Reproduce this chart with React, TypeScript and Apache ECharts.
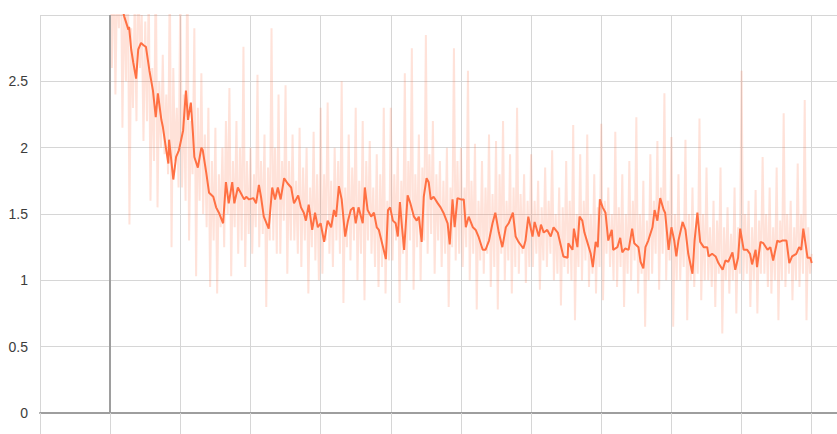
import React, { useEffect, useRef } from "react";
import * as echarts from "echarts";

// y-axis tick labels (top gridline "3" carries no label)
const yTicks = [0, 0.5, 1, 1.5, 2, 2.5, 3];

// raw values, one every 25 steps starting at step 0
const RAW_STEP = 25;
const rawLoss = [
  // 0 - 975
  3.9, 2.6, 3.5, 2.4, 3.3, 2.9, 3.6, 2.15, 3.2, 2.5, 3.6, 1.42, 2.9, 2.3, 3.1, 2.2, 3.5, 2.6, 3.0, 2.05,
  2.95, 2.2, 3.2, 1.6, 2.6, 1.9, 3.4, 1.55, 2.5, 2.0, 2.7, 1.95, 2.4, 1.8, 3.3, 1.25, 2.6, 1.9, 2.3, 1.7,
  // 1000 - 1975
  3.2, 1.7, 2.4, 1.6, 3.5, 1.3, 2.2, 1.8, 2.9, 1.03, 2.3, 1.6, 2.56, 1.5, 2.1, 1.4, 2.3, 0.95, 1.9, 1.3,
  2.15, 0.9, 1.8, 1.4, 2.0, 1.25, 2.2, 1.5, 2.45, 1.03, 1.9, 1.4, 2.2, 1.2, 2.0, 1.3, 2.76, 1.1, 1.9, 1.35,
  // 2000 - 2975
  2.0, 1.2, 1.8, 1.4, 2.55, 1.25, 1.9, 1.35, 2.1, 0.8, 1.85, 1.3, 2.9, 1.3, 2.0, 1.2, 2.4, 1.2, 1.9, 1.45,
  2.47, 1.05, 1.9, 1.3, 2.1, 1.3, 1.75, 1.2, 2.15, 1.1, 1.85, 1.3, 2.0, 0.9, 1.7, 1.25, 2.12, 1.15, 1.8, 1.0,
  // 3000 - 3975
  2.3, 1.05, 1.8, 1.3, 2.34, 1.2, 1.75, 1.1, 2.0, 1.3, 1.9, 1.2, 2.5, 0.83, 1.7, 1.25, 2.1, 1.15, 1.85, 1.3,
  2.3, 1.0, 1.75, 1.2, 2.2, 0.85, 1.9, 1.3, 2.05, 1.2, 1.7, 1.1, 1.95, 0.95, 1.8, 1.1, 2.3, 0.9, 1.6, 1.15,
  // 4000 - 4975
  2.3, 1.15, 1.8, 1.3, 2.0, 0.83, 1.75, 1.2, 2.56, 1.0, 1.9, 1.3, 2.75, 0.93, 1.8, 1.25, 2.1, 1.0, 1.85, 1.3,
  2.85, 1.2, 1.95, 1.35, 2.2, 1.05, 1.8, 1.3, 1.9, 1.1, 1.75, 1.2, 2.0, 0.8, 1.7, 1.25, 2.75, 1.15, 1.9, 1.2,
  // 5000 - 5975
  2.0, 1.1, 1.7, 1.25, 2.58, 1.0, 1.75, 1.2, 2.03, 0.78, 1.6, 1.15, 1.9, 1.05, 1.7, 1.2, 2.1, 0.95, 1.65, 1.1,
  2.05, 0.78, 1.8, 1.2, 2.2, 1.0, 1.6, 1.15, 1.95, 0.9, 1.7, 1.1, 2.3, 1.05, 1.65, 1.2, 1.8, 0.98, 1.6, 1.1,
  // 6000 - 6975
  1.95, 1.1, 1.6, 1.2, 1.75, 0.93, 1.55, 1.15, 1.85, 1.1, 1.6, 1.2, 1.98, 1.0, 1.5, 1.05, 1.7, 0.81, 1.55, 1.1,
  1.9, 1.05, 1.6, 1.0, 2.17, 0.7, 1.5, 1.1, 1.95, 1.0, 1.6, 1.15, 2.1, 0.95, 1.5, 1.05, 1.8, 0.9, 1.55, 1.1,
  // 7000 - 7975
  2.18, 0.85, 1.6, 1.2, 1.7, 1.1, 1.5, 1.0, 2.12, 0.95, 1.55, 1.1, 1.8, 0.8, 1.5, 1.05, 1.9, 1.0, 1.6, 1.15,
  2.23, 0.9, 1.5, 1.05, 1.75, 0.65, 1.45, 1.0, 1.95, 1.05, 1.6, 1.2, 2.05, 0.93, 1.7, 1.2, 2.41, 1.0, 1.6, 1.15,
  // 8000 - 8975
  2.08, 0.65, 1.5, 1.0, 1.8, 1.0, 1.45, 1.1, 2.06, 0.7, 1.5, 1.0, 1.7, 0.95, 1.4, 1.05, 2.22, 0.85, 1.5, 1.0,
  1.85, 1.0, 1.4, 0.95, 1.6, 0.8, 1.45, 1.05, 1.85, 0.6, 1.4, 1.0, 1.55, 0.9, 1.35, 1.0, 1.7, 0.75, 1.4, 1.05,
  // 9000 - 10000
  2.58, 1.0, 1.5, 1.05, 1.6, 0.8, 1.4, 1.0, 1.68, 0.75, 1.45, 1.05, 1.93, 1.05, 1.5, 0.95, 1.7, 0.9, 1.4, 1.0,
  1.85, 0.7, 1.45, 1.0, 2.26, 0.95, 1.5, 1.05, 1.6, 0.85, 1.4, 1.0, 1.88, 0.95, 1.5, 1.05, 2.36, 0.7, 1.4, 1.05,
  1.2,
];

// smoothed curve: [step, value]
const smoothed: [number, number][] = [
  [0, 3.6], [100, 3.2], [200, 2.99], [260, 2.89], [270, 2.91], [300, 2.74], [330, 2.64], [370, 2.52],
  [400, 2.74], [440, 2.79], [480, 2.77], [510, 2.76], [560, 2.58], [610, 2.43], [650, 2.23], [680, 2.41],
  [730, 2.21], [750, 2.16], [800, 1.98], [830, 1.88], [840, 2.06], [900, 1.76], [940, 1.93], [980, 1.98],
  [1040, 2.13], [1080, 2.43], [1110, 2.21], [1150, 2.34], [1180, 2.11], [1200, 1.93], [1250, 1.85], [1300, 2.0],
  [1320, 1.98], [1370, 1.81], [1410, 1.66], [1470, 1.63], [1510, 1.55], [1550, 1.51], [1610, 1.43], [1650, 1.74],
  [1690, 1.58], [1740, 1.74], [1770, 1.58], [1820, 1.7], [1860, 1.66], [1910, 1.61], [1940, 1.63], [1980, 1.61],
  [2040, 1.62], [2080, 1.58], [2120, 1.72], [2150, 1.63], [2190, 1.48], [2260, 1.39], [2310, 1.7], [2350, 1.61],
  [2390, 1.7], [2430, 1.61], [2480, 1.77], [2530, 1.73], [2580, 1.7], [2620, 1.58], [2680, 1.64], [2720, 1.55],
  [2760, 1.51], [2790, 1.45], [2830, 1.57], [2880, 1.38], [2920, 1.51], [2960, 1.4], [3000, 1.43], [3050, 1.29],
  [3100, 1.45], [3150, 1.4], [3190, 1.53], [3220, 1.48], [3260, 1.71], [3300, 1.61], [3350, 1.33], [3390, 1.45],
  [3430, 1.53], [3470, 1.55], [3500, 1.43], [3540, 1.55], [3600, 1.43], [3630, 1.7], [3670, 1.53], [3720, 1.48],
  [3760, 1.51], [3800, 1.4], [3830, 1.38], [3890, 1.25], [3930, 1.16], [3960, 1.53], [3990, 1.55], [4030, 1.45],
  [4070, 1.43], [4100, 1.33], [4130, 1.59], [4160, 1.4], [4190, 1.23], [4240, 1.64], [4280, 1.58], [4330, 1.48],
  [4370, 1.45], [4400, 1.48], [4440, 1.29], [4470, 1.63], [4510, 1.77], [4540, 1.74], [4570, 1.61], [4610, 1.63],
  [4670, 1.58], [4710, 1.55], [4750, 1.51], [4810, 1.43], [4840, 1.27], [4880, 1.61], [4910, 1.4], [4950, 1.62],
  [5000, 1.61], [5040, 1.61], [5070, 1.4], [5110, 1.48], [5170, 1.4], [5210, 1.38], [5250, 1.33], [5310, 1.23],
  [5350, 1.23], [5400, 1.3], [5450, 1.43], [5490, 1.51], [5540, 1.36], [5590, 1.25], [5640, 1.4], [5680, 1.43],
  [5740, 1.51], [5780, 1.33], [5820, 1.29], [5890, 1.24], [5920, 1.3], [5960, 1.48], [6020, 1.33], [6050, 1.44],
  [6110, 1.33], [6140, 1.42], [6180, 1.36], [6230, 1.38], [6280, 1.33], [6320, 1.4], [6380, 1.36], [6420, 1.27],
  [6460, 1.18], [6520, 1.17], [6530, 1.28], [6590, 1.23], [6610, 1.39], [6660, 1.25], [6690, 1.48], [6730, 1.45],
  [6760, 1.36], [6800, 1.29], [6850, 1.2], [6880, 1.1], [6920, 1.29], [6950, 1.25], [6980, 1.61], [7020, 1.55],
  [7060, 1.51], [7100, 1.3], [7150, 1.38], [7170, 1.23], [7230, 1.25], [7270, 1.32], [7300, 1.21], [7340, 1.24],
  [7390, 1.23], [7440, 1.39], [7470, 1.28], [7530, 1.25], [7560, 1.14], [7600, 1.09], [7630, 1.25], [7670, 1.3],
  [7730, 1.4], [7760, 1.53], [7800, 1.45], [7840, 1.62], [7890, 1.53], [7910, 1.51], [7960, 1.23], [8000, 1.4],
  [8040, 1.3], [8070, 1.18], [8100, 1.3], [8160, 1.44], [8200, 1.38], [8240, 1.2], [8300, 1.05], [8330, 1.3],
  [8370, 1.51], [8410, 1.29], [8460, 1.25], [8510, 1.25], [8530, 1.18], [8580, 1.2], [8630, 1.18], [8670, 1.13],
  [8730, 1.08], [8770, 1.15], [8810, 1.14], [8870, 1.21], [8910, 1.08], [8950, 1.17], [8980, 1.39], [9030, 1.23],
  [9080, 1.23], [9120, 1.2], [9150, 1.12], [9200, 1.23], [9220, 1.1], [9270, 1.29], [9310, 1.28], [9370, 1.23],
  [9410, 1.25], [9450, 1.15], [9510, 1.3], [9540, 1.29], [9580, 1.3], [9640, 1.3], [9680, 1.13], [9720, 1.18],
  [9780, 1.2], [9820, 1.25], [9850, 1.23], [9880, 1.39], [9940, 1.17], [9980, 1.17], [10000, 1.13],
];

const LINE_COLOR = "#ff7043";

export default function App() {
  const ref = useRef<HTMLDivElement>(null);

  useEffect(() => {
    if (!ref.current) return;
    const chart = echarts.init(ref.current, undefined, { renderer: "svg" });
    const rawData = rawLoss.map((v, i) => [i * RAW_STEP, v]);
    chart.setOption({
      animation: false,
      grid: { left: 40, right: 0, top: 15, bottom: 21, containLabel: false },
      xAxis: {
        type: "value",
        min: -1000,
        max: 10360,
        interval: 1000,
        axisLine: { show: true, onZero: false, lineStyle: { color: "#9e9e9e", width: 2 } },
        axisTick: { show: true, length: 25, lineStyle: { color: "#d6d6d6", width: 1 } },
        axisLabel: { show: false },
        splitLine: { show: true, lineStyle: { color: "#d6d6d6", width: 1 } },
      },
      yAxis: {
        type: "value",
        min: yTicks[0],
        max: yTicks[yTicks.length - 1],
        interval: 0.5,
        axisLine: { show: false },
        axisTick: { show: false },
        axisLabel: {
          showMaxLabel: false,
          margin: 12,
          color: "#3c3c3c",
          fontSize: 14,
          fontFamily: "'Liberation Sans', Arial, sans-serif",
        },
        splitLine: { show: true, lineStyle: { color: "#d6d6d6", width: 1 } },
      },
      series: [
        {
          type: "line",
          data: rawData,
          showSymbol: false,
          symbol: "none",
          clip: true,
          lineStyle: { color: LINE_COLOR, width: 2, opacity: 0.2 },
          z: 2,
          markLine: {
            silent: true,
            symbol: ["none", "none"],
            label: { show: false },
            lineStyle: { color: "#9e9e9e", width: 2, type: "solid", opacity: 1 },
            data: [{ xAxis: 0 }],
          },
        },
        {
          type: "line",
          data: smoothed,
          showSymbol: false,
          symbol: "none",
          clip: true,
          lineStyle: { color: LINE_COLOR, width: 2 },
          z: 3,
        },
      ],
    });
    return () => chart.dispose();
  }, []);

  return (
    <div
      ref={ref}
      style={{ position: "absolute", left: 0, top: 0, width: 837, height: 434, background: "#fff" }}
    />
  );
}
